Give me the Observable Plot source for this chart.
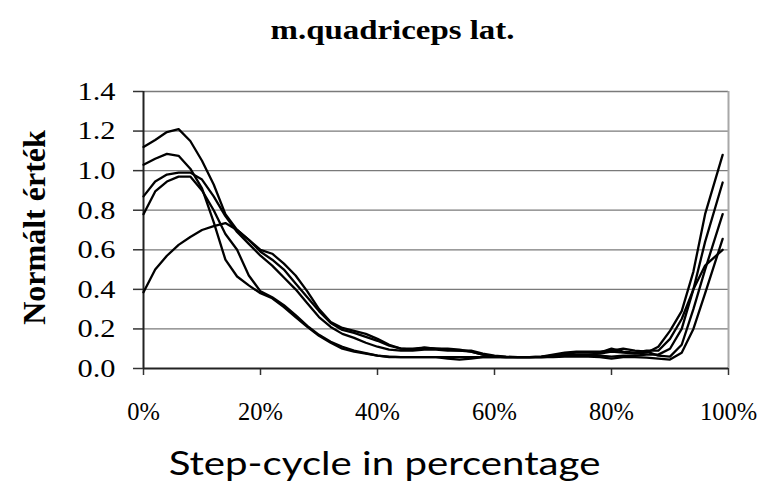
<!DOCTYPE html>
<html><head><meta charset="utf-8">
<script src="https://cdn.jsdelivr.net/npm/d3@7"></script>
<script src="https://cdn.jsdelivr.net/npm/@observablehq/plot@0.6"></script>
<style>body{margin:0;background:#fff}</style>
</head><body><div id="chart"></div>
<script>
const title = "m.quadriceps lat.";
const yLabel = "Normált érték";
const xLabel = "Step-cycle in percentage";
const xTicks = [0, 20, 40, 60, 80, 100];
const yTicks = [0, 0.2, 0.4, 0.6, 0.8, 1.0, 1.2, 1.4];

const pct = [0,2,4,6,8,10,12,14,16,18,20,22,24,26,28,30,32,34,36,38,40,42,44,46,48,50,52,54,56,58,60,62,64,66,68,70,72,74,76,78,80,82,84,86,88,90,92,94,96,99];

const curveA = [1.12,1.155,1.195,1.21,1.15,1.05,0.93,0.78,0.70,0.65,0.60,0.58,0.53,0.47,0.39,0.30,0.235,0.205,0.19,0.175,0.15,0.12,0.10,0.095,0.105,0.10,0.095,0.09,0.09,0.075,0.065,0.06,0.057,0.057,0.06,0.065,0.07,0.07,0.07,0.075,0.085,0.08,0.075,0.08,0.11,0.19,0.29,0.49,0.78,1.08];
const curveB = [1.03,1.06,1.085,1.075,1.01,0.91,0.74,0.55,0.465,0.42,0.38,0.355,0.31,0.26,0.21,0.165,0.13,0.10,0.085,0.075,0.065,0.058,0.057,0.057,0.057,0.057,0.05,0.045,0.05,0.057,0.057,0.057,0.057,0.057,0.057,0.06,0.065,0.065,0.065,0.065,0.06,0.065,0.065,0.07,0.07,0.10,0.20,0.40,0.64,0.94];
const curveC = [0.87,0.945,0.98,0.99,0.99,0.955,0.87,0.77,0.69,0.63,0.57,0.52,0.46,0.40,0.33,0.26,0.21,0.175,0.155,0.13,0.11,0.095,0.09,0.09,0.095,0.095,0.09,0.09,0.085,0.07,0.06,0.057,0.057,0.057,0.06,0.07,0.08,0.085,0.085,0.085,0.09,0.10,0.09,0.085,0.065,0.06,0.12,0.30,0.50,0.78];
const curveD = [0.78,0.895,0.945,0.97,0.97,0.90,0.80,0.68,0.60,0.47,0.39,0.36,0.32,0.27,0.215,0.17,0.135,0.11,0.09,0.078,0.065,0.06,0.057,0.057,0.057,0.057,0.057,0.057,0.057,0.057,0.057,0.057,0.057,0.057,0.057,0.057,0.06,0.06,0.06,0.057,0.05,0.057,0.057,0.055,0.05,0.045,0.08,0.20,0.38,0.655];
const curveE = [0.385,0.50,0.57,0.625,0.665,0.70,0.72,0.735,0.70,0.65,0.59,0.55,0.50,0.43,0.36,0.29,0.23,0.195,0.18,0.16,0.14,0.115,0.10,0.10,0.105,0.10,0.10,0.095,0.085,0.07,0.06,0.057,0.057,0.057,0.057,0.06,0.075,0.08,0.08,0.08,0.10,0.085,0.08,0.09,0.09,0.15,0.25,0.40,0.52,0.60];

const seriesNames = ["A", "B", "C", "D", "E"];
const seriesValues = [curveA, curveB, curveC, curveD, curveE];
const rows = [];
seriesValues.forEach((vals, i) => vals.forEach((v, j) => rows.push({s: seriesNames[i], pct: pct[j], v})));

const serif = "'Liberation Serif', 'Times New Roman', serif";

const chart = Plot.plot({
  width: 775, height: 497,
  marginTop: 91, marginLeft: 143, marginRight: 47, marginBottom: 129,
  style: {fontFamily: serif, fontSize: "24px", color: "#000", background: "#fff"},
  x: {domain: [0, 100], label: null},
  y: {domain: [0, 1.4], label: null},
  marks: [
    Plot.ruleY(yTicks.slice(1), {y: d => d, stroke: "#7a7a7a", strokeWidth: 1.3}),
    Plot.ruleX([100], {x: d => d, stroke: "#a8a8a8", strokeWidth: 2}),
    Plot.axisY({ticks: yTicks, tickFormat: d => d.toFixed(1), tickSize: 10, tickPadding: 18, fontSize: 26, stroke: "#333", strokeWidth: 1.5, label: null}),
    Plot.axisX({ticks: xTicks, tickFormat: d => d + "%", tickSize: 7, tickPadding: 27, fontSize: 24.5, stroke: "#333", strokeWidth: 1.5, label: null}),
    Plot.ruleX([0], {x: d => d, stroke: "#222", strokeWidth: 2}),
    Plot.ruleY([0], {y: d => d, stroke: "#222", strokeWidth: 2}),
    Plot.line(rows, {x: "pct", y: "v", z: "s", stroke: "#000", strokeWidth: 2.3, strokeLinejoin: "round"}),
    Plot.text([title], {text: d => d, frameAnchor: "top", dx: -43.5, dy: -72, fontWeight: "bold", fontSize: 28, fontFamily: serif}),
    Plot.text([yLabel], {text: d => d, frameAnchor: "left", textAnchor: "middle", rotate: -90, dx: -108.6, dy: -2.5, fontWeight: "bold", fontSize: 32, fontFamily: serif}),
    Plot.text([xLabel], {text: d => d, frameAnchor: "bottom", dx: -51.5, dy: 106, fontSize: 33, fontFamily: "Lato, 'Open Sans', sans-serif"})
  ]
});
document.getElementById("chart").append(chart);

function stretch(el, target) {
  const w = el.getComputedTextLength();
  if (!w) return;
  const s = target / w;
  const t = el.getAttribute("transform") || "";
  el.setAttribute("transform", `${t} scale(${s},1)`);
}
d3.select(chart).selectAll("text").each(function() {
  const txt = this.textContent;
  if (txt === title) stretch(this, 244);
  else if (txt === xLabel) stretch(this, 432);
  else if (/^\d\.\d$/.test(txt)) stretch(this, 38);
});
</script>
</body></html>
